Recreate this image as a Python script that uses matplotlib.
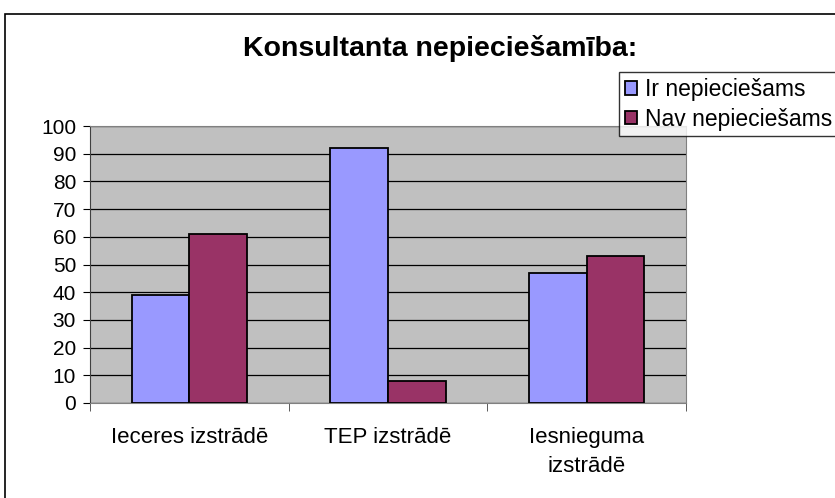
import matplotlib.pyplot as plt
import matplotlib.patches as patches
import numpy as np

plt.rcParams['font.family'] = ['Liberation Sans', 'DejaVu Sans']

categories = ["Ieceres izstrādē", "TEP izstrādē", "Iesnieguma\nizstrādē"]
ir_vals = [39, 92, 47]
nav_vals = [61, 8, 53]
series_names = ["Ir nepieciešams", "Nav nepieciešams"]

fig = plt.figure(figsize=(8.35, 4.98), dpi=100)
W, H = 835, 498

# outer chart border
fig.patches.append(patches.Rectangle((5 / W, -0.1), 1.0, 1 - 14 / H + 0.1,
                                     transform=fig.transFigure, fill=False,
                                     edgecolor='black', linewidth=1.2))

ax = fig.add_axes([90 / W, 1 - 403 / H, 596 / W, 277 / H])
ax.set_facecolor('#C0C0C0')

x = np.arange(len(categories))
w = 0.29
ax.bar(x - w / 2, ir_vals, w, color='#9999FF', edgecolor='black', linewidth=1.3,
       label=series_names[0], zorder=3)
ax.bar(x + w / 2, nav_vals, w, color='#993366', edgecolor='black', linewidth=1.3,
       label=series_names[1], zorder=3)

ax.set_xlim(-0.5, len(categories) - 0.5)
ax.set_ylim(0, 100)
ax.set_yticks(range(0, 101, 10))
ax.yaxis.grid(True, color='black', linewidth=0.9, zorder=0)
ax.set_axisbelow(True)

ax.set_xticks(x)
ax.set_xticklabels(categories, fontsize=16, linespacing=1.5)
ax.tick_params(axis='x', length=0, pad=17)
ax.set_xticks(np.arange(-0.5, len(categories), 1), minor=True)
ax.tick_params(axis='x', which='minor', length=6, direction='out', color='#404040')
ax.tick_params(axis='y', labelsize=15, length=5, direction='out', pad=5)

for s in ['top', 'right']:
    ax.spines[s].set_color('#808080')
ax.spines['bottom'].set_color('#808080')
ax.spines['left'].set_color('#404040')

fig.text(440 / W, 1 - 48 / H, "Konsultanta nepieciešamība:", ha='center', va='center',
         fontsize=20.5, fontweight='bold')

leg = fig.legend(loc='upper left', bbox_to_anchor=(619 / W, 1 - 72 / H), fontsize=16.5,
                 frameon=True, fancybox=False, edgecolor='black', facecolor='white',
                 handlelength=0.55, handleheight=0.55, handletextpad=0.35,
                 borderpad=0.25, labelspacing=0.3, borderaxespad=0)
leg.get_frame().set_linewidth(1.0)

fig.savefig('out.png', dpi=100)
